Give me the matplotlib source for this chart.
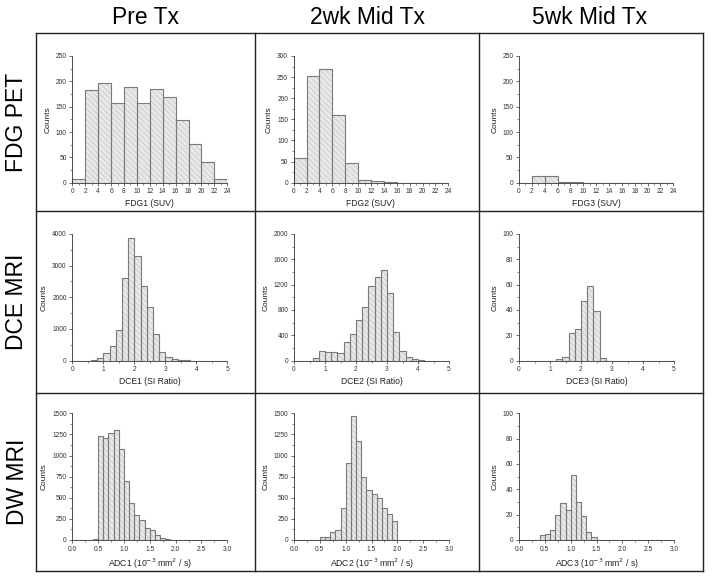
import matplotlib
matplotlib.use("Agg")
import matplotlib.pyplot as plt
import numpy as np
from matplotlib.ticker import MultipleLocator, AutoMinorLocator

plt.rcParams['font.family'] = ['Liberation Sans', 'DejaVu Sans']
plt.rcParams['hatch.linewidth'] = 0.35

col_titles = ["Pre Tx", "2wk Mid Tx", "5wk Mid Tx"]
row_titles = ["FDG PET", "DCE MRI", "DW MRI"]

# FDG (bin width 2, 0..24)
fdg_edges = np.arange(0, 26, 2)
fdg1 = [7, 182, 197, 157, 189, 157, 185, 170, 124, 76, 40, 8]
fdg2 = [58, 253, 270, 161, 46, 7, 4, 1, 0, 0, 0, 0]
fdg3 = [0, 14, 13, 2, 1, 0, 0, 0, 0, 0, 0, 0]

# DCE (bin width 0.2, 0..5)
dce_edges = np.round(np.arange(0, 5.2, 0.2), 2)
dce1 = [0, 0, 0, 10, 80, 230, 454, 950, 2597, 3864, 3294, 2344, 1679, 845, 264,
        106, 42, 20, 5, 0, 0, 0, 0, 0, 0]
dce2 = [0, 0, 0, 37, 158, 137, 137, 116, 285, 412, 644, 850, 1177, 1319, 1430,
        1061, 449, 158, 63, 26, 5, 0, 0, 0, 0]
dce3 = [0, 0, 0, 0, 0, 0, 1, 3, 22, 25, 47, 59, 39, 2, 0,
        0, 0, 0, 0, 0, 0, 0, 0, 0, 0]

# ADC (bin width 0.1, 0..3)
adc_edges = np.round(np.arange(0, 3.1, 0.1), 2)
adc1 = [0, 0, 0, 0, 10, 1232, 1208, 1263, 1299, 1082, 695, 438, 296, 237, 142,
        122, 63, 24, 12, 5, 2, 0, 0, 0, 0, 0, 0, 0, 0, 0]
adc2 = [0, 0, 0, 0, 0, 31, 31, 94, 118, 378, 913, 1465, 1173, 748, 594,
        539, 496, 382, 307, 220, 0, 0, 0, 0, 0, 0, 0, 0, 0, 0]
adc3 = [0, 0, 0, 0, 4, 5, 8, 20, 29, 24, 51, 30, 19, 6, 2,
        0, 0, 0, 0, 0, 0, 0, 0, 0, 0, 0, 0, 0, 0, 0]

panels = [
    [(fdg_edges, fdg1, "FDG1 (SUV)", 250, 50, 2),
     (fdg_edges, fdg2, "FDG2 (SUV)", 300, 50, 2),
     (fdg_edges, fdg3, "FDG3 (SUV)", 250, 50, 2)],
    [(dce_edges, dce1, "DCE1 (SI Ratio)", 4000, 1000, 1),
     (dce_edges, dce2, "DCE2 (SI Ratio)", 2000, 400, 1),
     (dce_edges, dce3, "DCE3 (SI Ratio)", 100, 20, 1)],
    [(adc_edges, adc1, "ADC1 (10$^{-3}$ mm$^{2}$ / s)", 1500, 250, 0.5),
     (adc_edges, adc2, "ADC2 (10$^{-3}$ mm$^{2}$ / s)", 1500, 250, 0.5),
     (adc_edges, adc3, "ADC3 (10$^{-3}$ mm$^{2}$ / s)", 100, 20, 0.5)],
]

W, H = 714, 579
fig = plt.figure(figsize=(W / 100, H / 100), dpi=100)

# axes pixel boxes
col_x = [[(72.3, 227.3), (293.7, 448.3), (519, 673.3)],
         [(72.3, 227.3), (294, 449), (519, 674)],
         [(72.3, 227.3), (294, 449), (519, 674)]]
row_y = [(56, 182.7), (234, 360.5), (413.3, 540)]

for r in range(3):
    for c in range(3):
        edges, counts, xlabel, ymax, ystep, xstep = panels[r][c]
        x0, x1 = col_x[r][c]
        yt, yb = row_y[r]
        ax = fig.add_axes([x0 / W, 1 - yb / H, (x1 - x0) / W, (yb - yt) / H])
        edges = np.asarray(edges, dtype=float)
        # fill with faint hatch texture
        ax.bar(edges[:-1], counts, width=np.diff(edges), align='edge',
               facecolor='#e8e8e8', edgecolor='#b8b8b8', linewidth=0,
               hatch='\\\\\\\\\\\\')
        # bar outlines
        ax.bar(edges[:-1], counts, width=np.diff(edges), align='edge',
               fill=False, edgecolor='#7a7a7a', linewidth=0.8)
        ax.set_xlim(edges[0], edges[-1])
        ax.set_ylim(0, ymax)
        ax.spines['top'].set_visible(False)
        ax.spines['right'].set_visible(False)
        for s in ['left', 'bottom']:
            ax.spines[s].set_linewidth(0.6)
            ax.spines[s].set_color('#333333')
            ax.spines[s].set_zorder(5)
        ax.xaxis.set_major_locator(MultipleLocator(xstep))
        ax.yaxis.set_major_locator(MultipleLocator(ystep))
        ax.xaxis.set_minor_locator(AutoMinorLocator(2))
        ax.yaxis.set_minor_locator(AutoMinorLocator(2))
        if r == 2:
            ax.xaxis.set_major_formatter(plt.FormatStrFormatter('%.1f'))
        ax.tick_params(which='major', direction='out', length=2.5, width=0.5,
                       labelsize=4.8, pad=1.5, colors='#333333')
        ax.tick_params(which='minor', direction='out', length=1.5, width=0.4,
                       colors='#333333')
        ax.set_ylabel("Counts", fontsize=6, labelpad=3, color='#222222')
        ax.set_xlabel(xlabel, fontsize=6.2, labelpad=3, color='#222222')
        ax.patch.set_alpha(0)

# grid lines of the table
bx0, bx1 = 36, 703
by0, by1 = 33, 571
vx = [bx0, 255, 479, bx1]
hy = [by0, 211, 393, by1]
for x in vx:
    fig.add_artist(plt.Line2D([x / W, x / W], [1 - by0 / H, 1 - by1 / H],
                              color='#222222', lw=1.0))
for y in hy:
    fig.add_artist(plt.Line2D([bx0 / W, bx1 / W], [1 - y / H, 1 - y / H],
                              color='#222222', lw=1.0))

col_centers = [145, 368, 590]
for t, xc in zip(col_titles, col_centers):
    fig.text(xc / W, 1 - 17 / H, t, ha='center', va='center', fontsize=16.5)

row_centers = [122, 302, 482]
for t, yc in zip(row_titles, row_centers):
    fig.text(17 / W, 1 - yc / H, t, ha='center', va='center', fontsize=16.5,
             rotation=90)

fig.savefig("out.png", dpi=100)
